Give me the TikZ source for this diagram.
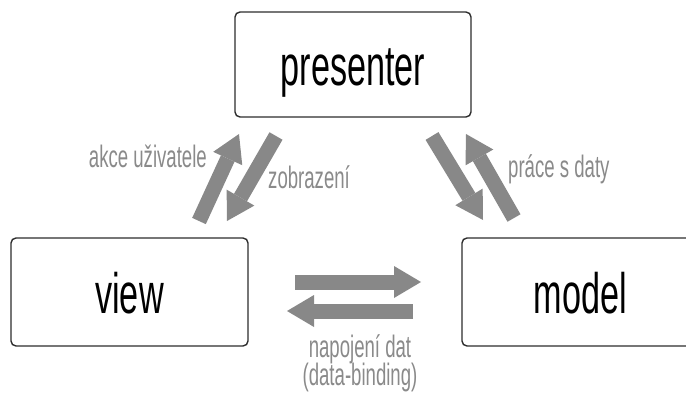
\documentclass[tikz,border=0pt]{standalone}
\usepackage{fontspec}
\setmainfont{Liberation Sans}[FakeStretch=0.6]
\usetikzlibrary{arrows.meta}

\definecolor{arrowgray}{RGB}{136,136,136}
\definecolor{labelgray}{RGB}{138,138,138}
\definecolor{boxline}{RGB}{45,45,45}

\tikzset{
  box/.style={draw=boxline, line width=1.4pt, rounded corners=5pt,
    inner sep=0pt, font=\fontsize{57}{60}\selectfont,
    text height=42pt, text depth=0pt},
  flow/.style={draw=arrowgray, line width=15pt,
    -{Triangle[length=27pt,width=32pt,line width=0pt]}},
  lbl/.style={text=labelgray, inner sep=0pt,
    font=\fontsize{31}{34}\selectfont}
}

\begin{document}
\begin{tikzpicture}[x=1pt, y=-1pt]
  \useasboundingbox (0,0) rectangle (686,396);
  \clip (0,0) rectangle (686,396);

  % the three components
  \node[box, minimum width=236pt, minimum height=105pt] (presenter) at (353,64.5) {presenter};
  \node[box, minimum width=237pt, minimum height=108pt] (view) at (129.5,292) {view};
  \node[box, minimum width=237pt, minimum height=108pt] (model) at (580.5,292) {model};

  % arrow end points
  \coordinate (a1s) at (199,221);  \coordinate (a1e) at (239,134);
  \coordinate (a2s) at (276,136);  \coordinate (a2e) at (227,221);
  \coordinate (a3s) at (432,136);  \coordinate (a3e) at (483,220);
  \coordinate (a4s) at (514,218);  \coordinate (a4e) at (466,134);
  \coordinate (a5s) at (295,282);  \coordinate (a5e) at (421,282);
  \coordinate (a6s) at (413,311);  \coordinate (a6e) at (287,311);

  % view <-> presenter
  \draw[flow] (a1s) -- (a1e);
  \draw[flow] (a2s) -- (a2e);
  % presenter <-> model
  \draw[flow] (a3s) -- (a3e);
  \draw[flow] (a4s) -- (a4e);
  % view <-> model
  \draw[flow] (a5s) -- (a5e);
  \draw[flow] (a6s) -- (a6e);

  % labels
  \node[lbl, anchor=base east] (l1) at (207,167) {akce uživatele};
  \node[lbl, anchor=base west] (l2) at (268,188) {zobrazení};
  \node[lbl, anchor=base west] (l3) at (508,177) {práce s daty};
  \node[lbl, anchor=base] (l4) at (360,357) {napojení dat};
  \node[lbl, anchor=base] (l5) at (360,385) {(data-binding)};
\end{tikzpicture}
\end{document}
